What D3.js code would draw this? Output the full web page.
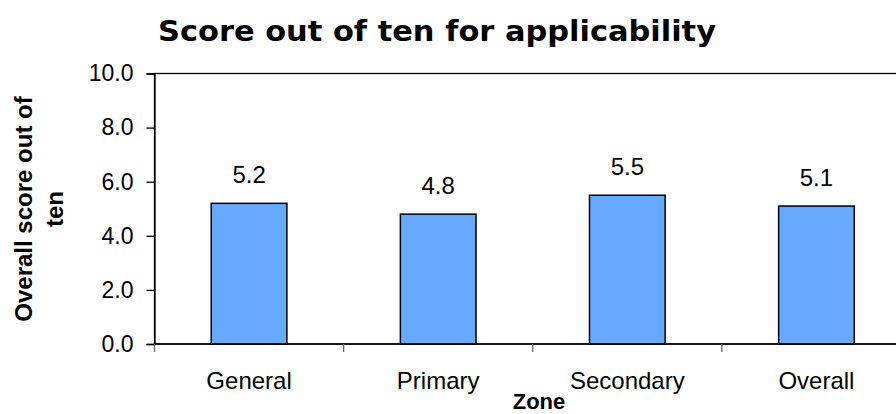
<!DOCTYPE html>
<html>
<head>
<meta charset="utf-8">
<script src="https://cdn.jsdelivr.net/npm/d3@7"></script>
<style>
  body { margin: 0; background: #fff; }
  svg { display: block; }
</style>
</head>
<body>
<div id="chart"></div>
<script>
// Chart values.
var zones = ["General", "Primary", "Secondary", "Overall"];
var scores = [5.2, 4.8, 5.5, 5.1];
var yTicks = [0, 2, 4, 6, 8, 10];

var width = 896, height = 414;
// Plot area runs past the right edge of the picture, as in the original.
var plot = { left: 154.5, top: 73.5, right: 911, bottom: 344 };
var font = 'Liberation Sans, Arial, sans-serif';

var svg = d3.select('#chart')
  .append('svg')
  .attr('width', width)
  .attr('height', height);

var x = d3.scaleBand()
  .domain(zones)
  .range([plot.left, plot.right])
  .paddingInner(0.6)
  .paddingOuter(0.3);

// band of one category, for tick marks
var xEdge = d3.scaleBand().domain(zones).range([plot.left, plot.right]);

var y = d3.scaleLinear()
  .domain([0, 10])
  .range([plot.bottom, plot.top]);

// Plot frame (top and left show, right is cut off)
svg.append('rect')
  .attr('x', plot.left)
  .attr('y', plot.top)
  .attr('width', plot.right - plot.left)
  .attr('height', plot.bottom - plot.top)
  .attr('fill', 'none')
  .attr('stroke', '#000')
  .attr('stroke-width', 1.3);

// Bars
svg.selectAll('.bar')
  .data(scores)
  .enter()
  .append('rect')
  .attr('class', 'bar')
  .attr('x', function(d, i) { return x(zones[i]); })
  .attr('y', function(d) { return y(d); })
  .attr('width', x.bandwidth())
  .attr('height', function(d) { return y(0) - y(d); })
  .attr('fill', '#66aaff')
  .attr('stroke', '#000')
  .attr('stroke-width', 1.5);

// Value labels
svg.selectAll('.val')
  .data(scores)
  .enter()
  .append('text')
  .attr('class', 'val')
  .attr('x', function(d, i) { return x(zones[i]) + x.bandwidth() / 2; })
  .attr('y', function(d) { return y(d) - 20; })
  .attr('text-anchor', 'middle')
  .attr('font-family', font)
  .attr('font-size', 24)
  .text(function(d) { return d.toFixed(1); });

// Y axis
var yAxis = d3.axisLeft(y)
  .tickValues(yTicks)
  .tickFormat(d3.format('.1f'))
  .tickSize(8)
  .tickPadding(13);

var gy = svg.append('g')
  .attr('transform', 'translate(' + plot.left + ',0)')
  .call(yAxis);
gy.select('.domain').attr('stroke', '#000').attr('stroke-width', 1.3);
gy.selectAll('.tick line').attr('stroke', '#000').attr('stroke-width', 1.3);
gy.selectAll('.tick text')
  .attr('font-family', font)
  .attr('font-size', 23)
  .attr('fill', '#000');

// X axis: ticks sit between categories
var gx = svg.append('g')
  .attr('transform', 'translate(0,' + plot.bottom + ')');
gx.append('line')
  .attr('x1', plot.left).attr('x2', plot.right)
  .attr('stroke', '#000').attr('stroke-width', 1.3);
gx.selectAll('.xtick')
  .data(zones)
  .enter()
  .append('line')
  .attr('class', 'xtick')
  .attr('x1', function(d) { return xEdge(d); })
  .attr('x2', function(d) { return xEdge(d); })
  .attr('y1', 0).attr('y2', 8)
  .attr('stroke', '#666').attr('stroke-width', 1.3);
gx.selectAll('.xlab')
  .data(zones)
  .enter()
  .append('text')
  .attr('class', 'xlab')
  .attr('x', function(d) { return x(d) + x.bandwidth() / 2; })
  .attr('y', 45)
  .attr('text-anchor', 'middle')
  .attr('font-family', font)
  .attr('font-size', 24)
  .text(function(d) { return d; });

// Title, squeezed like the original
svg.append('text')
  .attr('x', 437)
  .attr('y', 41)
  .attr('text-anchor', 'middle')
  .attr('font-family', 'DejaVu Sans, Verdana, sans-serif')
  .attr('font-weight', 'bold')
  .attr('font-size', 29)
  .attr('textLength', 558)
  .attr('lengthAdjust', 'spacingAndGlyphs')
  .text('Score out of ten for applicability');

// X axis title
svg.append('text')
  .attr('x', 539)
  .attr('y', 409)
  .attr('text-anchor', 'middle')
  .attr('font-family', font)
  .attr('font-weight', 'bold')
  .attr('font-size', 22)
  .text('Zone');

// Y axis title, two lines
var yt = svg.append('text')
  .attr('transform', 'translate(32,209) rotate(-90)')
  .attr('text-anchor', 'middle')
  .attr('font-family', font)
  .attr('font-weight', 'bold')
  .attr('font-size', 24);
yt.append('tspan').attr('x', 0).attr('y', 0).text('Overall score out of');
yt.append('tspan').attr('x', 0).attr('y', 31).text('ten');
</script>
</body>
</html>
